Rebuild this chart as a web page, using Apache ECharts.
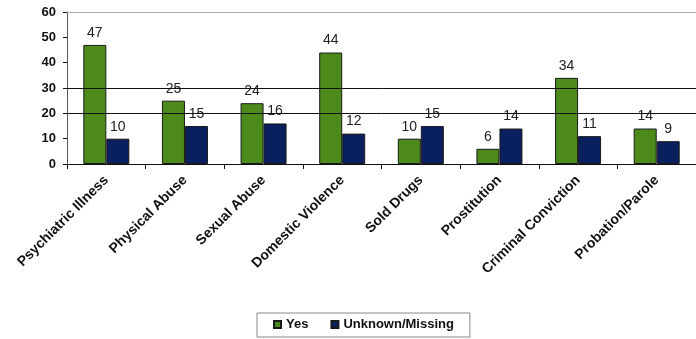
<!DOCTYPE html>
<html>
<head>
<meta charset="utf-8">
<script src="https://cdn.jsdelivr.net/npm/echarts@6/dist/echarts.min.js"></script>
<style>
  html, body { margin: 0; padding: 0; background: #fff; }
  #chart { width: 696px; height: 339px; }
</style>
</head>
<body>
<div id="chart"></div>
<script>
// categories and values
const categories = [
  "Psychiatric Illness", "Physical Abuse", "Sexual Abuse", "Domestic Violence",
  "Sold Drugs", "Prostitution", "Criminal Conviction", "Probation/Parole"
];
const yesValues = [47, 25, 24, 44, 10, 6, 34, 14];
const unknownValues = [10, 15, 16, 12, 15, 14, 11, 9];
const gridValues = [20, 30];

const font = "Liberation Sans, Arial, sans-serif";
const chart = echarts.init(document.getElementById("chart"));

const labelStyle = {
  show: true,
  position: "top",
  distance: 5,
  color: "#222",
  fontFamily: font,
  fontSize: 14
};

chart.setOption({
  animation: false,
  grid: { left: 67, right: -3, top: 12, bottom: 175 },
  legend: {
    left: 257,
    top: 313,
    itemWidth: 7,
    itemHeight: 7,
    itemGap: 22,
    padding: [5, 16, 6, 16],
    borderColor: "#888",
    borderWidth: 1,
    icon: "rect",
    textStyle: { fontFamily: font, fontSize: 13, fontWeight: "bold", color: "#111" },
    data: ["Yes", "Unknown/Missing"]
  },
  xAxis: {
    type: "category",
    data: categories,
    axisLine: { lineStyle: { color: "#111", width: 1 } },
    axisTick: { show: true, length: 5, lineStyle: { color: "#111" } },
    axisLabel: {
      rotate: 45,
      interval: 0,
      margin: 14,
      fontFamily: font,
      fontSize: 14,
      fontWeight: "bold",
      color: "#111"
    }
  },
  yAxis: {
    type: "value",
    min: 0,
    max: 60,
    interval: 10,
    splitLine: { show: false },
    axisLine: { show: true, lineStyle: { color: "#555", width: 1 } },
    axisTick: { show: true, length: 4, lineStyle: { color: "#111" } },
    axisLabel: { fontFamily: font, fontSize: 13, fontWeight: "bold", color: "#111", margin: 11 }
  },
  series: [
    {
      name: "Yes",
      type: "bar",
      data: yesValues,
      barWidth: 23,
      barGap: "0%",
      itemStyle: { color: "#4C8A1C", borderColor: "#1a1a1a", borderWidth: 1 },
      label: labelStyle,
      markLine: {
        silent: true,
        symbol: "none",
        label: { show: false },
        lineStyle: { color: "#111", type: "solid", width: 1 },
        data: gridValues.map(v => ({ yAxis: v })).concat([
          { yAxis: 60, lineStyle: { color: "#aaa", width: 1, type: "solid" } }
        ])
      },
      z: 3
    },
    {
      name: "Unknown/Missing",
      type: "bar",
      data: unknownValues,
      barWidth: 23,
      itemStyle: { color: "#0A1F5E", borderColor: "#1a1a1a", borderWidth: 1 },
      label: labelStyle,
      z: 3
    }
  ]
});
</script>
</body>
</html>
